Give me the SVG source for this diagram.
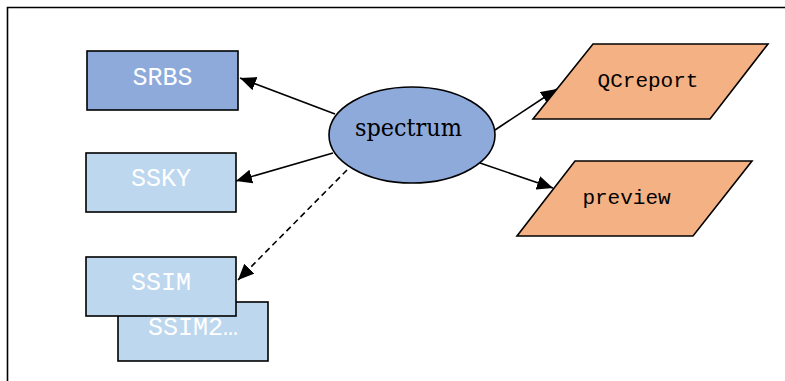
<svg xmlns="http://www.w3.org/2000/svg" width="785" height="381" viewBox="0 0 785 381">
<style>
.box{stroke:#000;stroke-width:1.6}
.dark{fill:#8eaadb}
.light{fill:#bdd7ee}
.para{fill:#f4b183;stroke:#000;stroke-width:1.6}
.bt{font-family:"Liberation Mono",monospace;font-size:25px;fill:#fff;text-anchor:middle}
.pt{font-family:"Liberation Mono",monospace;font-size:21px;fill:#000;text-anchor:middle}
.conn line{stroke:#000;stroke-width:1.6;marker-end:url(#ah)}
</style>
<defs>
<marker id="ah" markerUnits="userSpaceOnUse" markerWidth="17" markerHeight="15" refX="16" refY="7" orient="auto">
<path d="M0,0 L16,7 L0,14 z" fill="#000"/>
</marker>
</defs>
<rect width="785" height="381" fill="#fff"/>
<path d="M7.5,381 V7.5 H785" fill="none" stroke="#000" stroke-width="1.6"/>
<g class="conn">
<line x1="335" y1="114" x2="240" y2="78"/>
<line x1="333" y1="153" x2="236" y2="181"/>
<line x1="347" y1="170" x2="238" y2="280" stroke-dasharray="6,4"/>
<line x1="495" y1="130" x2="557" y2="89"/>
<line x1="480" y1="163" x2="553" y2="188"/>
</g>
<g id="SRBS"><rect class="box dark" x="87" y="51" width="151" height="59"/><text class="bt" x="162.5" y="85">SRBS</text></g>
<g id="SSKY"><rect class="box light" x="86" y="153" width="150" height="59"/><text class="bt" x="161" y="186">SSKY</text></g>
<g id="SSIM2"><rect class="box light" x="118" y="302" width="150" height="59"/><text class="bt" x="193" y="335">SSIM2…</text></g>
<g id="SSIM"><rect class="box light" x="86" y="257" width="150" height="59"/><text class="bt" x="161" y="290">SSIM</text></g>
<g id="spectrum"><ellipse cx="412" cy="135" rx="83" ry="48" fill="#8eaadb" stroke="#000" stroke-width="1.6"/><text x="408.5" y="135.5" font-family="DejaVu Serif,serif" font-size="23.5" text-anchor="middle" textLength="107" lengthAdjust="spacingAndGlyphs" fill="#000">spectrum</text></g>
<g id="QCreport"><polygon class="para" points="593,44 768,44 710,119 533,119"/><text class="pt" x="648" y="87">QCreport</text></g>
<g id="preview"><polygon class="para" points="575,161 752,161 693,236 517,236"/><text class="pt" x="626.5" y="204">preview</text></g>
</svg>
